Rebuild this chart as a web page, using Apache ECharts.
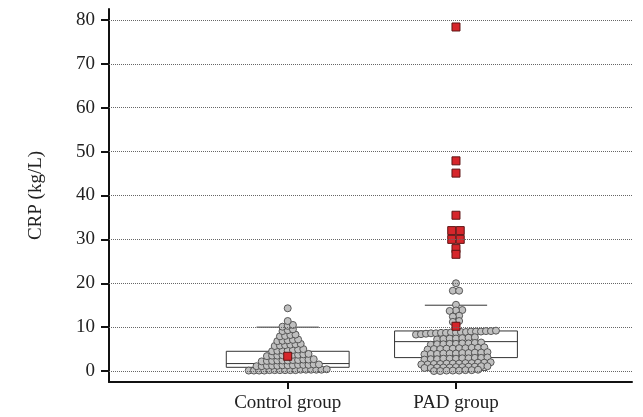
<!DOCTYPE html>
<html>
<head>
<meta charset="utf-8">
<script src="https://cdn.jsdelivr.net/npm/echarts@6/dist/echarts.min.js"></script>
<style>html,body{margin:0;padding:0;background:#fff}#c{width:643px;height:417px}</style>
</head>
<body>
<div id="c"></div>
<script>
// ---- data ----
const categories = ['Control group', 'PAD group'];
const yTicks = [0, 10, 20, 30, 40, 50, 60, 70, 80];
// box stats: [low, q1, median, q3, high]
const controlBox = [0.2, 0.85, 1.7, 4.5, 10.0];
const padBox = [0.16, 3.06, 6.7, 9.13, 15.0];
const controlMean = 3.36;
const padMean = 10.2;
const controlValues = [
  0.1, 0.1, 0.1, 0.1, 0.2, 0.2, 0.2, 0.2, 0.2, 0.2, 0.3, 0.3, 0.3, 0.3, 0.3, 0.4,
  1.1, 1.1, 1.2, 1.2, 1.2, 1.3, 1.3, 1.3, 1.4, 1.4, 1.4, 1.5, 1.5,
  2.2, 2.3, 2.3, 2.4, 2.4, 2.4, 2.5, 2.5, 2.6, 2.6, 2.7,
  3.4, 3.5, 3.5, 3.6, 3.6, 3.7, 3.7, 3.8, 3.9,
  4.5, 4.6, 4.7, 4.7, 4.8, 4.9, 5.0,
  5.7, 5.8, 5.9, 6.0, 6.1, 6.2,
  6.8, 6.9, 7.0, 7.1, 7.2,
  7.9, 8.0, 8.2, 8.3,
  9.1, 9.3, 9.5,
  10.1, 10.3, 10.5,
  11.4, 14.3];
const padValues = [
  20.0, 18.3, 18.3, 15.1, 13.9, 13.8, 13.7, 12.6, 12.4, 11.4, 11.2, 10.4,
  8.3, 8.4, 8.5, 8.6, 8.6, 8.7, 8.7, 8.8, 8.8, 8.9, 8.9, 9.0, 9.0, 9.0, 9.1, 9.1, 9.2,
  7.2, 7.3, 7.4, 7.4, 7.5, 7.6, 7.7,
  6.0, 6.1, 6.1, 6.2, 6.2, 6.3, 6.3, 6.4, 6.5,
  4.9, 5.0, 5.0, 5.1, 5.1, 5.2, 5.2, 5.3, 5.3, 5.4,
  3.8, 3.9, 3.9, 4.0, 4.0, 4.0, 4.1, 4.1, 4.2, 4.2, 4.3,
  2.6, 2.7, 2.7, 2.8, 2.8, 2.8, 2.9, 2.9, 3.0, 3.0, 3.1,
  1.5, 1.5, 1.6, 1.6, 1.7, 1.7, 1.7, 1.8, 1.8, 1.9, 1.9, 2.0,
  0.7, 0.7, 0.8, 0.8, 0.8, 0.9, 0.9, 1.0, 1.0, 1.1, 1.1,
  0.0, 0.0, 0.1, 0.1, 0.1, 0.2, 0.2, 0.3];
const padOutliers = [78.4, 47.9, 45.1, 35.5, 32.0, 32.0, 30.0, 30.0, 27.9, 26.6];

// ---- layout ----
const W = 643, H = 417;
const grid = { left: 109, right: 11, top: 9, bottom: 35 };
const xMin = -0.062, xMax = 3.046, yMin = -2.5, yMax = 82.5;
const xScale = (W - grid.left - grid.right) / (xMax - xMin);
const FONT = 'Liberation Serif';

// dot-plot layout: values close together share a row, centred on the group
function rows(values, spacing, maxWidth, gap) {
  const order = values.map((v, i) => i).sort((a, b) => values[a] - values[b]);
  const groups = [];
  let cur = [];
  order.forEach(i => {
    if (cur.length && values[i] - values[cur[cur.length - 1]] > gap) { groups.push(cur); cur = []; }
    cur.push(i);
  });
  if (cur.length) groups.push(cur);
  const offs = new Array(values.length);
  groups.forEach(g => {
    const s = g.length > 1 ? Math.min(spacing, maxWidth / (g.length - 1)) : 0;
    g.forEach((i, j) => { offs[i] = (j - (g.length - 1) / 2) * s; });
  });
  return offs;
}
function binned(values, s) {
  const counts = {};
  values.forEach(v => counts[v] = (counts[v] || 0) + 1);
  const seen = {};
  return values.map(v => {
    const idx = seen[v] = (seen[v] === undefined ? 0 : seen[v] + 1);
    return (idx - (counts[v] - 1) / 2) * s;
  });
}
const cOff = rows(controlValues, 5.2, 80, 0.3);
const pOff = rows(padValues, 6.3, 80, 0.3);
const oOff = binned(padOutliers, 8.5);
const grayData = controlValues.map((v, i) => [1 + cOff[i] / xScale, v])
  .concat(padValues.map((v, i) => [2 + pOff[i] / xScale, v]));
const redData = padOutliers.map((v, i) => [2 + oOff[i] / xScale, v])
  .concat([[1, controlMean], [2, padMean]]);

const boxW = 0.73, capW = 0.37;
const chart = echarts.init(document.getElementById('c'), null, { renderer: 'canvas' });
chart.setOption({
  animation: false,
  backgroundColor: '#fff',
  grid: grid,
  xAxis: {
    type: 'value', min: xMin, max: xMax,
    splitLine: { show: false },
    axisLine: { show: true, onZero: false, lineStyle: { color: '#111', width: 2 } },
    axisTick: { show: true, customValues: [1, 2], length: 7, lineStyle: { color: '#111', width: 2 } },
    axisLabel: { customValues: [1, 2], formatter: v => categories[Math.round(v) - 1], color: '#222',
      fontFamily: FONT, fontSize: 19, margin: 12 }
  },
  yAxis: {
    type: 'value', min: yMin, max: yMax,
    name: 'CRP (kg/L)', nameLocation: 'middle', nameGap: 63,
    nameTextStyle: { fontFamily: FONT, fontSize: 19, color: '#222' },
    splitLine: { show: false },
    axisLine: { show: true, onZero: false, lineStyle: { color: '#111', width: 2 } },
    axisTick: { show: true, customValues: yTicks, length: 8, lineStyle: { color: '#111', width: 2 } },
    axisLabel: { customValues: yTicks, color: '#222', fontFamily: FONT, fontSize: 19, margin: 14 }
  },
  series: [
    {
      type: 'line', data: [], z: 1, silent: true,
      markLine: {
        silent: true, symbol: ['none', 'none'], label: { show: false },
        lineStyle: { type: [1, 1], color: '#666', width: 1 },
        data: yTicks.map(v => ({ yAxis: v }))
      }
    },
    {
      type: 'custom', z: 2, silent: true,
      data: [[1].concat(controlBox), [2].concat(padBox)],
      renderItem: function (params, api) {
        const x = api.value(0);
        const lo = api.coord([x, api.value(1)]);
        const q1 = api.coord([x, api.value(2)]);
        const md = api.coord([x, api.value(3)]);
        const q3 = api.coord([x, api.value(4)]);
        const hi = api.coord([x, api.value(5)]);
        const hb = api.size([boxW, 0])[0] / 2;
        const hc = api.size([capW, 0])[0] / 2;
        const st = { stroke: '#333', lineWidth: 1, fill: null };
        return {
          type: 'group', children: [
            { type: 'line', shape: { x1: lo[0], y1: lo[1], x2: q1[0], y2: q1[1] }, style: st },
            { type: 'line', shape: { x1: q3[0], y1: q3[1], x2: hi[0], y2: hi[1] }, style: st },
            { type: 'line', shape: { x1: lo[0] - hc, y1: lo[1], x2: lo[0] + hc, y2: lo[1] }, style: st },
            { type: 'line', shape: { x1: hi[0] - hc, y1: hi[1], x2: hi[0] + hc, y2: hi[1] }, style: st },
            { type: 'rect', shape: { x: q3[0] - hb, y: q3[1], width: 2 * hb, height: q1[1] - q3[1] },
              style: { fill: '#fff', stroke: '#333', lineWidth: 1 } },
            { type: 'line', shape: { x1: md[0] - hb, y1: md[1], x2: md[0] + hb, y2: md[1] }, style: st }
          ]
        };
      }
    },
    {
      type: 'scatter', z: 3, silent: true, data: grayData, symbol: 'circle', symbolSize: 7,
      itemStyle: { color: '#c0c0c0', borderColor: '#4a4a4a', borderWidth: 0.9, opacity: 1 }
    },
    {
      type: 'scatter', z: 4, silent: true, data: redData, symbol: 'rect', symbolSize: 8,
      itemStyle: { color: '#d6262b', borderColor: '#5e1515', borderWidth: 1, opacity: 1 }
    }
  ]
});
</script>
</body>
</html>
